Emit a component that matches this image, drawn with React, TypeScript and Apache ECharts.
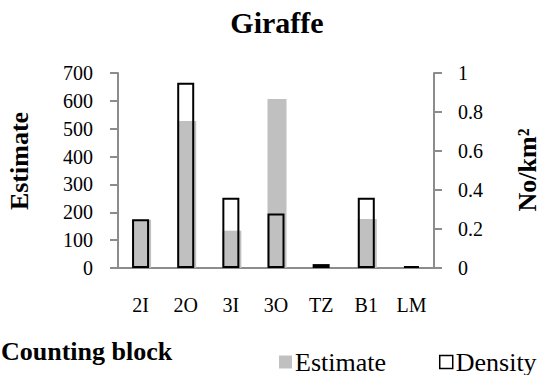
import React, { useEffect, useRef } from "react";
import * as echarts from "echarts";

const categories = ["2I", "2O", "3I", "3O", "TZ", "B1", "LM"];
const estimateValues = [173, 528, 134, 607, 0, 176, 0];
const densityValues = [0.25, 0.95, 0.36, 0.28, 0.02, 0.36, 0.01];
const titleText = "Giraffe";
const leftAxisName = "Estimate";
const rightAxisName = "No/km²";
const xAxisName = "Counting block";

const FONT = "Liberation Serif";
const AXIS_GRAY = "#8c8c8c";

export default function App() {
  const ref = useRef<HTMLDivElement>(null);
  useEffect(() => {
    if (!ref.current) return;
    const chart = echarts.init(ref.current, null, { renderer: "svg" });
    const label = { fontFamily: FONT, fontSize: 20, color: "#000" };
    chart.setOption({
      animation: false,
      backgroundColor: "#ffffff",
      textStyle: { fontFamily: FONT, color: "#000" },
      title: {
        text: titleText,
        left: 277,
        textAlign: "center",
        top: 7,
        padding: 0,
        textStyle: { fontFamily: FONT, fontWeight: "bold", fontSize: 30, color: "#000" },
      },
      grid: { left: 118, right: 107, top: 73, bottom: 107, containLabel: false },
      legend: {
        left: 279,
        top: 349,
        width: 262,
        padding: 0,
        itemWidth: 13,
        itemHeight: 13,
        itemGap: 53,
        icon: "rect",
        textStyle: { fontFamily: FONT, fontSize: 26, lineHeight: 26, color: "#000", padding: [0, 0, 0, -2] },
        data: [
          { name: "Estimate", itemStyle: { color: "#c0c0c0", borderWidth: 0 } },
          { name: "Density", itemStyle: { color: "#ffffff", borderColor: "#000", borderWidth: 1.5 } },
        ],
      },
      xAxis: {
        type: "category",
        data: categories,
        axisTick: { show: false },
        axisLine: { lineStyle: { color: AXIS_GRAY, width: 2 } },
        axisLabel: { ...label, margin: 27 },
      },
      yAxis: [
        {
          type: "value",
          min: 0,
          max: 700,
          interval: 100,
          splitLine: { show: false },
          axisLine: { show: true, lineStyle: { color: AXIS_GRAY, width: 2 } },
          axisTick: { show: true, length: 8, lineStyle: { color: AXIS_GRAY, width: 2 } },
          axisLabel: { ...label, margin: 25 },
        },
        {
          type: "value",
          min: 0,
          max: 1,
          interval: 0.2,
          position: "right",
          splitLine: { show: false },
          axisLine: { show: true, lineStyle: { color: AXIS_GRAY, width: 2 } },
          axisTick: { show: true, length: 8, lineStyle: { color: AXIS_GRAY, width: 2 } },
          axisLabel: { ...label, margin: 24 },
        },
      ],
      graphic: [
        {
          type: "text",
          x: 19,
          y: 161,
          rotation: Math.PI / 2,
          style: {
            text: leftAxisName,
            fontFamily: FONT,
            fontWeight: "bold",
            fontSize: 26,
            fill: "#000",
            align: "center",
            verticalAlign: "middle",
          },
        },
        {
          type: "text",
          x: 527,
          y: 170,
          rotation: Math.PI / 2,
          style: {
            text: rightAxisName,
            fontFamily: FONT,
            fontWeight: "bold",
            fontSize: 26,
            fill: "#000",
            align: "center",
            verticalAlign: "middle",
          },
        },
        {
          type: "text",
          x: 1,
          y: 351,
          style: {
            text: xAxisName,
            fontFamily: FONT,
            fontWeight: "bold",
            fontSize: 26,
            fill: "#000",
            align: "left",
            verticalAlign: "middle",
          },
        },
      ],
      series: [
        {
          name: "Estimate",
          type: "bar",
          yAxisIndex: 0,
          barWidth: 19,
          data: estimateValues,
          itemStyle: { color: "#c0c0c0" },
        },
        {
          name: "Density",
          type: "bar",
          yAxisIndex: 1,
          barWidth: 17,
          barGap: "-100%",
          data: densityValues,
          itemStyle: { color: "rgba(0,0,0,0)", borderColor: "#000", borderWidth: 2 },
        },
      ],
    });
    return () => chart.dispose();
  }, []);
  return (
    <div
      ref={ref}
      style={{ position: "fixed", left: 0, top: 0, width: 541, height: 375 }}
    />
  );
}
